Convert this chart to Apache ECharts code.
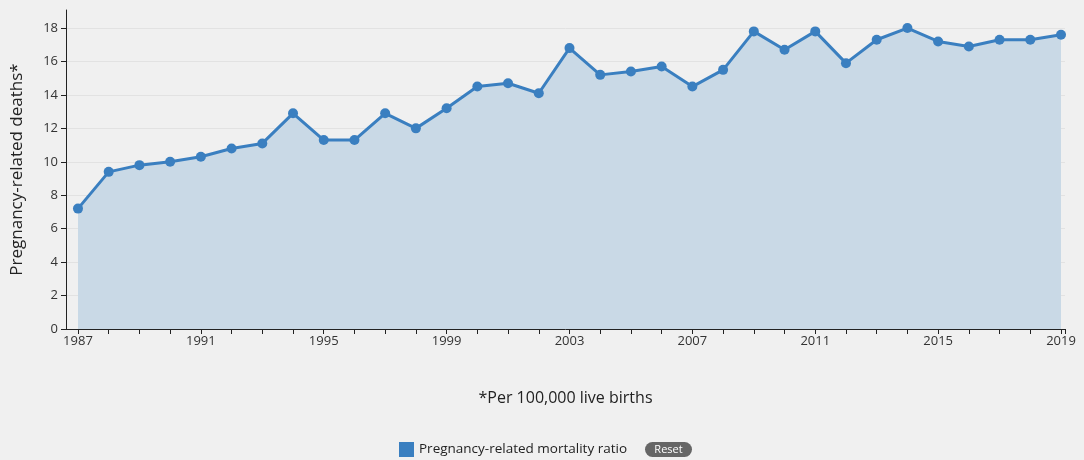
<!DOCTYPE html>
<html>
<head>
<meta charset="utf-8">
<script src="https://cdn.jsdelivr.net/npm/echarts@6/dist/echarts.min.js"></script>
<style>
  html, body { margin: 0; padding: 0; background: #f0f0f0; }
  #chart { width: 1084px; height: 460px; }
</style>
</head>
<body>
<div id="chart"></div>
<script>
// years and ratio (deaths per 100,000 live births)
const years = [1987, 1988, 1989, 1990, 1991, 1992, 1993, 1994, 1995, 1996, 1997,
               1998, 1999, 2000, 2001, 2002, 2003, 2004, 2005, 2006, 2007, 2008,
               2009, 2010, 2011, 2012, 2013, 2014, 2015, 2016, 2017, 2018, 2019];
const ratio = [7.2, 9.4, 9.8, 10.0, 10.3, 10.8, 11.1, 12.9, 11.3, 11.3, 12.9,
               12.0, 13.2, 14.5, 14.7, 14.1, 16.8, 15.2, 15.4, 15.7, 14.5, 15.5,
               17.8, 16.7, 17.8, 15.9, 17.3, 18.0, 17.2, 16.9, 17.3, 17.3, 17.6];
const xLabels = [1987, 1991, 1995, 1999, 2003, 2007, 2011, 2015, 2019];
const yLabels = [0, 2, 4, 6, 8, 10, 12, 14, 16, 18];

const lineColor = '#3a7fc0';
const font = 'Open Sans, Noto Sans, sans-serif';

let chart = echarts.init(document.getElementById('chart'));
chart.setOption({
    backgroundColor: '#f0f0f0',
    animation: false,
    grid: { left: 66, right: 19, top: 10, bottom: 131 },
    legend: {
        top: 437,
        left: 394,
        icon: 'rect',
        itemWidth: 15,
        itemHeight: 15,
        itemGap: 8,
        textStyle: { fontFamily: font, fontSize: 13.5, color: '#222' },
        data: ['Pregnancy-related mortality ratio']
    },
    xAxis: {
        type: 'value',
        min: 1986.61,
        max: 2019.13,
        name: '*Per 100,000 live births',
        nameLocation: 'middle',
        nameGap: 61,
        nameTextStyle: { fontFamily: font, fontSize: 16, color: '#222' },
        axisLine: { lineStyle: { color: '#222', width: 1 } },
        axisTick: { length: 5, lineStyle: { color: '#222' }, customValues: years.concat([2019.13]) },
        axisLabel: {
            customValues: xLabels,
            formatter: v => String(v),
            fontFamily: font, fontSize: 13, color: '#333', margin: 6
        },
        splitLine: { show: false }
    },
    yAxis: {
        type: 'value',
        min: 0,
        max: 19.08,
        name: 'Pregnancy-related deaths*',
        nameLocation: 'middle',
        nameGap: 40,
        nameTextStyle: { fontFamily: font, fontSize: 17, color: '#222' },
        axisLine: { show: true, lineStyle: { color: '#222', width: 1 } },
        axisTick: { show: true, length: 5, lineStyle: { color: '#222' }, customValues: yLabels },
        axisLabel: { customValues: yLabels, fontFamily: font, fontSize: 13, color: '#333', margin: 8 },
        splitLine: { show: true, lineStyle: { color: '#e2e2e2', width: 1 } }
    },
    series: [
        {
            name: 'Pregnancy-related mortality ratio',
            type: 'line',
            data: years.map((y, i) => [y, ratio[i]]),
            symbol: 'circle',
            symbolSize: 10,
            lineStyle: { color: lineColor, width: 3 },
            itemStyle: { color: lineColor },
            areaStyle: { color: '#c9d9e6', opacity: 1 }
        }
    ],
    graphic: [
        {
            type: 'group',
            left: 645,
            top: 442,
            children: [
                { type: 'rect', shape: { x: 0, y: 0, width: 47, height: 15, r: 7.5 }, style: { fill: '#666' } },
                { type: 'text', x: 23.5, y: 7.5, style: { text: 'Reset', fill: '#fff', font: '11px ' + font, align: 'center', verticalAlign: 'middle' } }
            ]
        }
    ]
});
</script>
</body>
</html>
